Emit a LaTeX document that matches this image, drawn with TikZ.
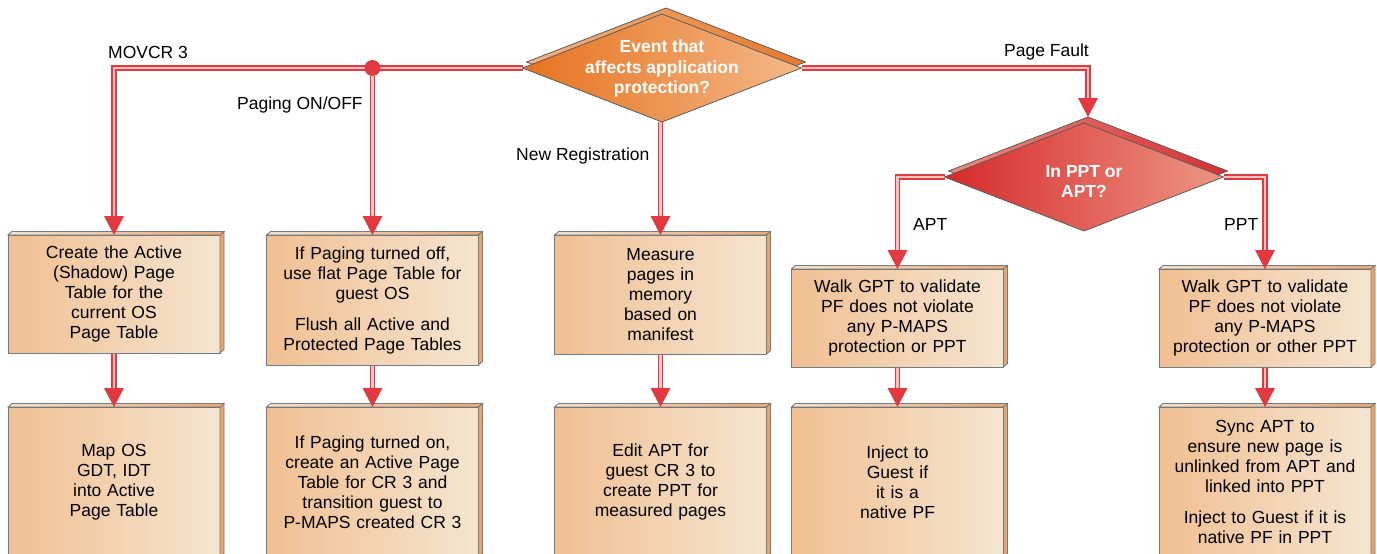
\documentclass[tikz,border=0pt]{standalone}
\usepackage{fontspec}
\setmainfont{Liberation Sans}
\usetikzlibrary{shapes.geometric,calc}
\pgfdeclarelayer{bg}
\pgfsetlayers{bg,main}
\definecolor{connred}{HTML}{E0393F}
\definecolor{connpink}{HTML}{F5C3C3}
\definecolor{boxL}{HTML}{F1BF92}
\definecolor{boxR}{HTML}{F5E5D0}
\definecolor{boxedge}{HTML}{6F7B87}
\definecolor{boxtopL}{HTML}{F3E2CF}
\definecolor{boxtopR}{HTML}{F0A870}
\definecolor{boxside}{HTML}{EFA466}
\definecolor{dAL}{HTML}{E6731F}
\definecolor{dAR}{HTML}{F4B888}
\definecolor{dAbL}{HTML}{F3B482}
\definecolor{dAbR}{HTML}{E7772A}
\definecolor{dBL}{HTML}{D52A2C}
\definecolor{dBR}{HTML}{EE9684}
\definecolor{dBbL}{HTML}{EE8A7A}
\definecolor{dBbR}{HTML}{D63034}
\definecolor{dedge}{HTML}{5C5C5C}
\newcommand\conn[1]{\draw[connout] #1; \draw[connin] #1;}
\newcommand\tipat[1]{\fill[connred] (#1) -- ++(-10,-19) -- ++(20,0) -- cycle;}
\newcommand\threed[1]{%
  \filldraw[draw=boxedge, line width=0.8pt, left color=boxtopL, right color=boxtopR]
    (#1.north west) -- ++(4,-3.5) -- ($(#1.north east)+(4,-3.5)$) -- (#1.north east) -- cycle;
  \filldraw[draw=boxedge, line width=0.8pt, fill=boxside]
    (#1.north east) -- ++(4,-3.5) -- ($(#1.south east)+(4,-3.5)$) -- (#1.south east) -- cycle;}
\begin{document}
\begin{tikzpicture}[x=1pt,y=-1pt,
  connout/.style={draw=connred, line width=5.5pt, shorten >=17pt},
  connin/.style={draw=connpink, line width=2.5pt, shorten >=17pt},
  box/.style={rectangle, draw=boxedge, line width=0.8pt, left color=boxL, right color=boxR,
    minimum width=212pt, text width=205pt, align=center, inner sep=0pt, outer sep=0pt,
    font=\fontsize{17.5}{20}\selectfont},
  diam/.style={diamond, draw=dedge, line width=0.8pt, minimum width=279pt, minimum height=108pt,
    inner sep=0pt, outer sep=0pt},
  dtext/.style={text=white, align=center, font=\bfseries\fontsize{17.5}{20.5}\selectfont},
  lbl/.style={font=\fontsize{17.5}{20}\selectfont, inner sep=0pt, anchor=west},
  dot/.style={circle, fill=connred, minimum size=16pt, inner sep=0pt}]
\useasboundingbox (0,0) rectangle (1377,554);
\clip (0,0) rectangle (1377,554);

% diamonds
\node[diam, left color=dAbL, right color=dAbR] (d1b) at (666,62) {};
\node[diam, left color=dAL, right color=dAR] (d1) at (662,68) {};
\node[dtext] (t1) at (662,68.5) {Event that\\affects application\\protection?};
\node[diam, left color=dBbL, right color=dBbR] (d2b) at (1088,171) {};
\node[diam, left color=dBL, right color=dBR] (d2) at (1084,177) {};
\node[dtext] (t2) at (1084,181.5) {In PPT or\\APT?};

% row 1 boxes
\node[box, minimum height=118pt] (b1) at (114,294) {Create the Active\\(Shadow) Page\\Table for the\\current OS\\Page Table};
\node[box, minimum height=130pt] (b2) at (372.5,300) {If Paging turned off,\\use flat Page Table for\\guest OS\\[11pt]Flush all Active and\\Protected Page Tables};
\node[box, minimum height=119pt] (b3) at (660.5,294.5) {Measure\\pages in\\memory\\based on\\manifest};
\node[box, minimum height=98pt] (b4) at (897.5,318) {Walk GPT to validate\\PF does not violate\\any P-MAPS\\protection or PPT};
\node[box, minimum height=98pt] (b5) at (1265,318) {Walk GPT to validate\\PF does not violate\\any P-MAPS\\protection or other PPT};

% row 2 boxes
\node[box, minimum height=150pt] (c1) at (114,482) {Map OS\\GDT, IDT\\into Active\\Page Table};
\node[box, minimum height=150pt] (c2) at (372.5,482) {If Paging turned on,\\create an Active Page\\Table for CR 3 and\\transition guest to\\P-MAPS created CR 3};
\node[box, minimum height=150pt] (c3) at (660.5,482) {Edit APT for\\guest CR 3 to\\create PPT for\\measured pages};
\node[box, minimum height=150pt] (c4) at (897.5,482) {Inject to\\Guest if\\it is a\\native PF};
\node[box, minimum height=150pt] (c5) at (1265,482) {Sync APT to\\ensure new page is\\unlinked from APT and\\linked into PPT\\[11pt]Inject to Guest if it is\\native PF in PPT};

\foreach \n in {b1,b2,b3,b4,b5,c1,c2,c3,c4,c5} {\threed{\n}}

% junction
\node[dot] (j) at (b2.north |- d1.west) {};

% connectors
\begin{pgfonlayer}{bg}
\conn{(d1.west) -| (b1.north)}
\conn{(j) -- (b2.north)}
\conn{(d1.south -| b3.north) -- (b3.north)}
\conn{(d1.east) -| (d2b.north)}
\conn{(d2.west) -| (b4.north)}
\conn{(d2.east) -| (b5.north)}
\conn{(b1.south) -- (c1.north)}
\conn{(b2.south) -- (c2.north)}
\conn{(b3.south) -- (c3.north)}
\conn{(b4.south) -- (c4.north)}
\conn{(b5.south) -- (c5.north)}
\end{pgfonlayer}
\foreach \n in {b1,b2,b3,b4,b5,c1,c2,c3,c4,c5,d2b} {\tipat{\n.north}}

% labels
\node[lbl] (l1) at (108,52) {MOVCR 3};
\node[lbl] (l2) at (237,105) {Paging ON/OFF};
\node[lbl] (l3) at (516,156) {New Registration};
\node[lbl] (l4) at (1004,52) {Page Fault};
\node[lbl] (l5) at (913,224) {APT};
\node[lbl] (l6) at (1224,224) {PPT};
\end{tikzpicture}
\end{document}
